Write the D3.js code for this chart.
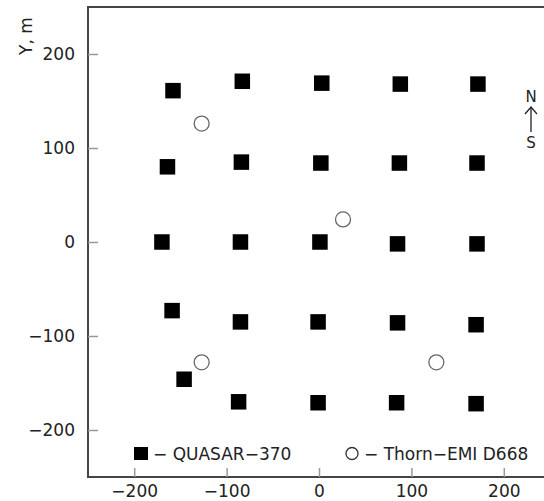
<!DOCTYPE html>
<html>
<head>
<meta charset="utf-8">
<script src="https://cdn.jsdelivr.net/npm/d3@7"></script>
<style>
  body { margin: 0; background: #fff; }
  svg { display: block; font-family: "DejaVu Sans", sans-serif; }
</style>
</head>
<body>
<svg id="chart"></svg>
<script>
// detector positions, metres
const quasarX = [-158, -83, 3, 88, 172, -164, -84, 2, 87, 171, -170, -85, 1, 85, 171, -159, -85, -1, 85, 170, -146, -87, -1, 84, 170]
const quasarY = [161, 171, 169, 168, 168, 80, 85, 84, 84, 84, 0, 0, 0, -2, -2, -73, -85, -85, -86, -88, -146, -170, -171, -171, -172]
const thornX = [-127, 26, -127, 127]
const thornY = [126, 24, -128, -128]
const tickVals = [-200, -100, 0, 100, 200]

const width = 544, height = 501
const svg = d3.select('#chart').attr('width', width).attr('height', height)

const x = d3.scaleLinear().domain([-250, 250]).range([88, 550])
const y = d3.scaleLinear().domain([-250, 250]).range([477, 7])

// frame
svg.append('rect')
    .attr('x', 88).attr('y', 7)
    .attr('width', 462).attr('height', 470)
    .attr('fill', 'none')
    .attr('stroke', '#444')
    .attr('stroke-width', 2)

let xAxis = svg.append('g')
    .attr('transform', 'translate(0,477)')
    .call(d3.axisBottom(x).tickValues(tickVals).tickSize(-9).tickPadding(8))
let yAxis = svg.append('g')
    .attr('transform', 'translate(88,0)')
    .call(d3.axisLeft(y).tickValues(tickVals).tickSize(-10).tickPadding(13))

;[xAxis, yAxis].forEach(a => {
    a.select('.domain').remove()
    a.selectAll('.tick line').attr('stroke', '#999').attr('stroke-width', 1.5)
    a.selectAll('.tick text').attr('fill', '#222').style('font-size', '17px')
        .style('font-family', '"DejaVu Sans", sans-serif')
})

// Y label
svg.append('text')
    .attr('transform', 'translate(32,36) rotate(-90)')
    .attr('text-anchor', 'middle')
    .attr('fill', '#222')
    .style('font-size', '17px')
    .text('Y, m')

// points
const quasar = quasarX.map((v, i) => ({x: v, y: quasarY[i]}))
const thorn = thornX.map((v, i) => ({x: v, y: thornY[i]}))
const sq = 15.5

svg.append('g').selectAll('rect')
    .data(quasar)
    .enter().append('rect')
    .attr('x', d => x(d.x) - sq / 2)
    .attr('y', d => y(d.y) - sq / 2)
    .attr('width', sq).attr('height', sq)
    .attr('fill', '#000')

svg.append('g').selectAll('circle')
    .data(thorn)
    .enter().append('circle')
    .attr('cx', d => x(d.x))
    .attr('cy', d => y(d.y))
    .attr('r', 7.5)
    .attr('fill', '#fff')
    .attr('stroke', '#666')
    .attr('stroke-width', 1.3)

// legend
svg.append('rect').attr('x', 134).attr('y', 447).attr('width', 14).attr('height', 13).attr('fill', '#000')
svg.append('text').attr('x', 153).attr('y', 460).attr('fill', '#222').style('font-size', '17px')
    .text('− QUASAR−370')
svg.append('circle').attr('cx', 352).attr('cy', 453.5).attr('r', 6)
    .attr('fill', '#fff').attr('stroke', '#333').attr('stroke-width', 1.3)
svg.append('text').attr('x', 364).attr('y', 460).attr('fill', '#222').style('font-size', '17px')
    .text('− Thorn−EMI D668')

// north arrow
let compass = svg.append('g').attr('fill', '#222').style('font-size', '15px')
compass.append('text').attr('x', 531).attr('y', 102).attr('text-anchor', 'middle').text('N')
compass.append('line').attr('x1', 531).attr('x2', 531).attr('y1', 107).attr('y2', 132)
    .attr('stroke', '#222').attr('stroke-width', 1.3)
compass.append('path').attr('d', 'M525,114 L531,107 L537,114')
    .attr('fill', 'none').attr('stroke', '#222').attr('stroke-width', 1.3)
compass.append('text').attr('x', 531).attr('y', 148).attr('text-anchor', 'middle').text('S')
</script>
</body>
</html>
